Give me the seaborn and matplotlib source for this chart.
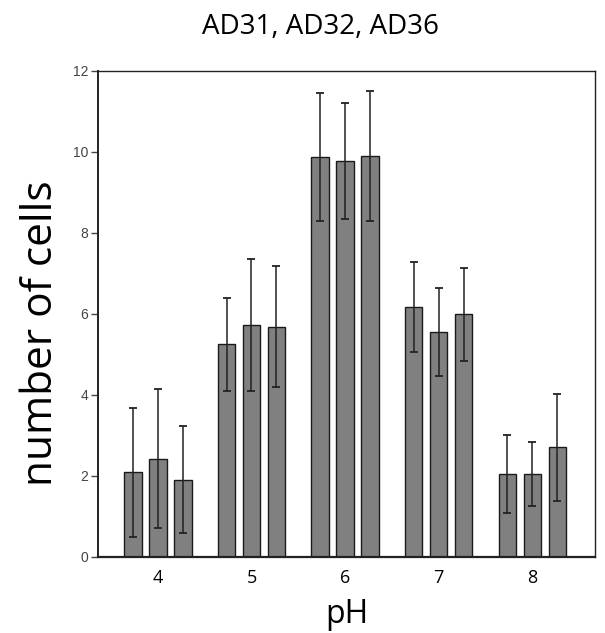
import matplotlib
matplotlib.use("Agg")
import matplotlib.pyplot as plt
import seaborn as sns
import pandas as pd
import numpy as np

ph_levels = ["4", "5", "6", "7", "8"]
strains = ["AD31", "AD32", "AD36"]
ad31 = [2.09, 5.25, 9.88, 6.18, 2.05]
ad32 = [2.43, 5.73, 9.78, 5.56, 2.05]
ad36 = [1.91, 5.69, 9.90, 5.99, 2.71]
err31 = [1.60, 1.15, 1.58, 1.11, 0.96]
err32 = [1.72, 1.62, 1.44, 1.09, 0.80]
err36 = [1.32, 1.50, 1.61, 1.14, 1.32]

vals = {"AD31": ad31, "AD32": ad32, "AD36": ad36}
errs = {"AD31": err31, "AD32": err32, "AD36": err36}

df = pd.DataFrame({
    "pH": [p for s in strains for p in ph_levels],
    "strain": [s for s in strains for p in ph_levels],
    "cells": [v for s in strains for v in vals[s]],
})

sns.set_style("white")
plt.rcParams["font.family"] = ["Open Sans", "DejaVu Sans"]
plt.rcParams["text.color"] = "black"
plt.rcParams["axes.labelcolor"] = "black"

fig = plt.figure(figsize=(6.05, 6.33), dpi=100)
ax = fig.add_axes([98/605, 1 - 557/633, (595 - 98)/605, (557 - 71)/633])

sns.barplot(data=df, x="pH", y="cells", hue="strain", order=ph_levels,
            hue_order=strains, palette=["#808080"] * 3, width=0.8, gap=0.3,
            errorbar=None, edgecolor="#1a1a1a", linewidth=1.0, legend=False,
            ax=ax, zorder=2)

for cont, s in zip(ax.containers, strains):
    xs = [b.get_x() + b.get_width() / 2 for b in cont]
    ax.errorbar(xs, vals[s], yerr=errs[s], fmt="none", ecolor="#222222",
                elinewidth=1.1, capsize=3, capthick=1.3, zorder=3)

ax.set_ylim(0, 12)
ax.set_xlim(-0.64, 4.67)
ax.set_yticks([0, 2, 4, 6, 8, 10, 12])
ax.tick_params(axis="y", left=True, length=5, width=1, color="#444444",
               labelsize=10, labelcolor="#444444", pad=2)
for lab in ax.get_yticklabels():
    lab.set_fontfamily("Liberation Sans")
ax.tick_params(axis="x", bottom=False, labelsize=13, pad=5, labelcolor="black")
for sp in ax.spines.values():
    sp.set_visible(True)
    sp.set_color("#222222")
    sp.set_linewidth(1.0)
ax.spines["left"].set_linewidth(1.4)
ax.spines["bottom"].set_linewidth(1.6)

ax.set_xlabel("pH", fontsize=23, labelpad=8)
ax.set_ylabel("number of cells", fontsize=30.5)
ax.yaxis.set_label_coords(-0.072, (557 - 333) / 486)
fig.text(320/605, 1 - 27/633, "AD31, AD32, AD36", ha="center", va="center",
         fontsize=20)

fig.savefig("out.png", dpi=100)
